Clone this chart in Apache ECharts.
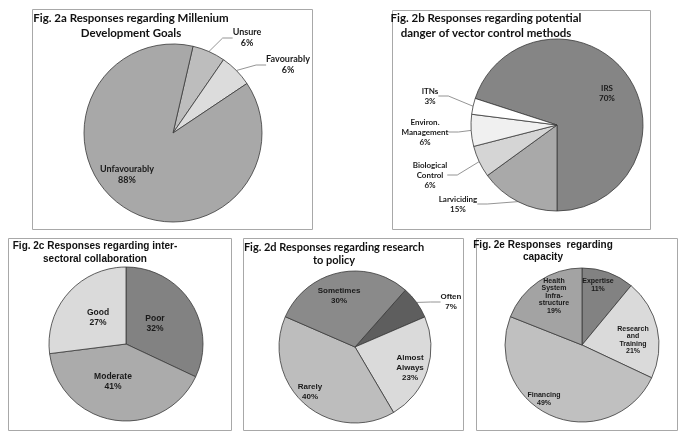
<!DOCTYPE html>
<html>
<head>
<meta charset="utf-8">
<script src="https://cdn.jsdelivr.net/npm/echarts@6/dist/echarts.min.js"></script>
<style>
  html, body { margin: 0; padding: 0; background: #fff; }
  #chart { width: 685px; height: 437px; }
</style>
</head>
<body>
<div id="chart"></div>
<script>
// Fig. 2a
const mdgNames = ['Unsure', 'Favourably', 'Unfavourably']
const mdgValues = [6, 6, 88]
// Fig. 2b
const vectorNames = ['IRS', 'Larviciding', 'Biological\nControl', 'Environ.\nManagement', 'ITNs']
const vectorValues = [70, 15, 6, 6, 3]
// Fig. 2c
const collabNames = ['Poor', 'Moderate', 'Good']
const collabValues = [32, 41, 27]
// Fig. 2d
const policyNames = ['Often', 'Almost\nAlways', 'Rarely', 'Sometimes']
const policyValues = [7, 23, 40, 30]
// Fig. 2e
const capacityNames = ['Expertise', 'Research\nand\nTraining', 'Financing', 'Health\nSystem\nInfra-\nstructure']
const capacityValues = [11, 21, 49, 19]

const CALIBRI = 'Lato, "Liberation Sans", sans-serif'
const ARIAL = '"Liberation Sans", Arial, sans-serif'

function pieSeries (cfg) {
  const data = cfg.names.map((name, i) => ({
    name: name,
    value: cfg.values[i],
    itemStyle: { color: cfg.colors[i] },
    labelLine: { show: !!cfg.outside[i] }
  }))
  return {
    type: 'pie',
    center: cfg.center,
    radius: cfg.radius,
    startAngle: cfg.startAngle,
    clockwise: true,
    avoidLabelOverlap: false,
    silent: true,
    data: data,
    itemStyle: { borderColor: '#3a3a3a', borderWidth: 0.8 },
    label: {
      show: true,
      position: 'outside',
      formatter: '{b}\n{c}%',
      color: '#1a1a1a',
      fontFamily: cfg.font,
      fontWeight: 'bold',
      fontSize: cfg.fontSize,
      lineHeight: cfg.lineHeight,
      align: 'center'
    },
    labelLine: {
      show: true,
      length: 10,
      length2: 10,
      lineStyle: { color: '#7a7a7a', width: 0.8 }
    },
    labelLayout: function (params) {
      const p = cfg.labelPos[params.dataIndex]
      return { x: p[0], y: p[1], align: 'center', verticalAlign: 'middle' }
    }
  }
}

function box (x, y, w, h) {
  return {
    type: 'rect',
    shape: { x: x + 0.5, y: y + 0.5, width: w, height: h },
    style: { fill: 'none', stroke: '#a8a8a8', lineWidth: 1 },
    z: 0
  }
}

function title (text, x, y, font, size, lh) {
  return {
    type: 'text',
    x: x,
    y: y,
    style: {
      text: text,
      fill: '#111',
      fontFamily: font,
      fontWeight: 'bold',
      fontSize: size,
      lineHeight: lh,
      align: 'center',
      verticalAlign: 'middle'
    },
    z: 10
  }
}

const chart = echarts.init(document.getElementById('chart'))

chart.setOption({
  animation: false,
  backgroundColor: '#fff',
  graphic: [
    box(32, 9, 280, 220),
    box(392, 10, 258, 219),
    box(8, 238, 223, 192),
    box(243, 238, 220, 192),
    box(476, 238, 201, 192),
    title('Fig. 2a Responses regarding Millenium\nDevelopment Goals', 131, 26, CALIBRI, 11.5, 15),
    title('Fig. 2b Responses regarding potential\ndanger of vector control methods', 486, 26, CALIBRI, 11.5, 15),
    title('Fig. 2c Responses regarding inter-\nsectoral collaboration', 95, 253, ARIAL, 10, 13),
    title('Fig. 2d Responses regarding research\nto policy', 334, 254, CALIBRI, 11, 13),
    title('Fig. 2e Responses  regarding\ncapacity', 543, 251, ARIAL, 10, 12)
  ],
  series: [
    pieSeries({
      names: mdgNames,
      values: mdgValues,
      center: [173, 133],
      radius: 89,
      startAngle: 77,
      colors: ['#bdbdbd', '#dcdcdc', '#a8a8a8'],
      outside: [true, true, false],
      labelPos: [[247, 38], [288, 65], [127, 175]],
      font: CALIBRI,
      fontSize: 9,
      lineHeight: 11
    }),
    pieSeries({
      names: vectorNames,
      values: vectorValues,
      center: [557, 125],
      radius: 86,
      startAngle: 162,
      colors: ['#858585', '#a9a9a9', '#d5d5d5', '#f0f0f0', '#ffffff'],
      outside: [false, true, true, true, true],
      labelPos: [[607, 93], [458, 204], [430, 175], [425, 132], [430, 96]],
      font: CALIBRI,
      fontSize: 8,
      lineHeight: 10
    }),
    pieSeries({
      names: collabNames,
      values: collabValues,
      center: [126, 344],
      radius: 77,
      startAngle: 90,
      colors: ['#828282', '#ababab', '#dadada'],
      outside: [false, false, false],
      labelPos: [[155, 324], [113, 382], [98, 318]],
      font: ARIAL,
      fontSize: 8.5,
      lineHeight: 10
    }),
    pieSeries({
      names: policyNames,
      values: policyValues,
      center: [355, 347],
      radius: 76,
      startAngle: 48.5,
      colors: ['#5e5e5e', '#dadada', '#bdbdbd', '#8a8a8a'],
      outside: [true, false, false, false],
      labelPos: [[451, 302], [410, 368], [310, 392], [339, 296]],
      font: ARIAL,
      fontSize: 8,
      lineHeight: 10
    }),
    pieSeries({
      names: capacityNames,
      values: capacityValues,
      center: [582, 345],
      radius: 77,
      startAngle: 90,
      colors: ['#828282', '#dadada', '#c0c0c0', '#a3a3a3'],
      outside: [false, false, false, false],
      labelPos: [[598, 285], [633, 340], [544, 399], [554, 296]],
      font: ARIAL,
      fontSize: 7,
      lineHeight: 7.5
    })
  ]
})
</script>
</body>
</html>
